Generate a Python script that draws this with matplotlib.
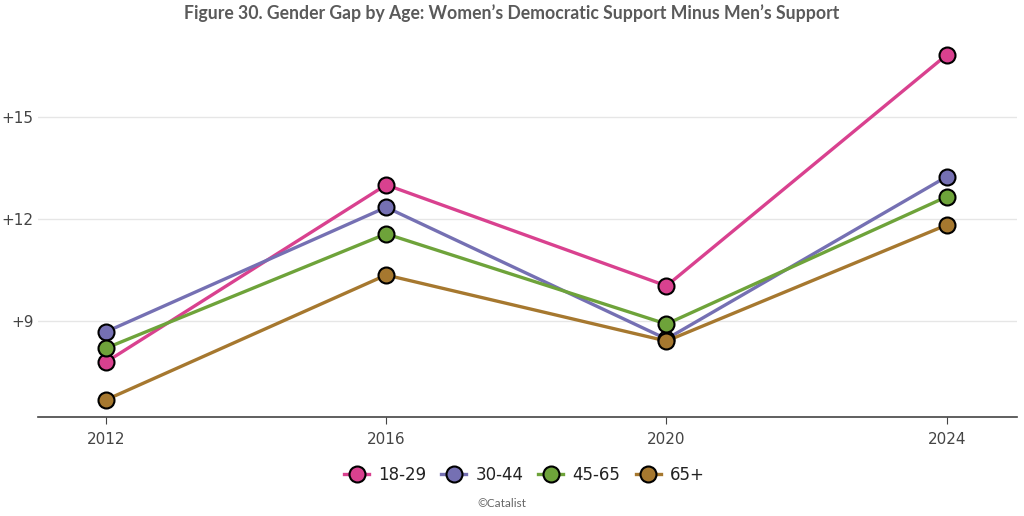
import matplotlib.pyplot as plt
from matplotlib.lines import Line2D

# ---- data ----
years = [2012, 2016, 2020, 2024]
year_labels = ["2012", "2016", "2020", "2024"]
groups = ["18-29", "30-44", "45-65", "65+"]
gap_18_29 = [7.79, 13.0, 10.03, 16.82]
gap_30_44 = [8.68, 12.34, 8.47, 13.24]
gap_45_65 = [8.2, 11.56, 8.91, 12.65]
gap_65_up = [6.68, 10.35, 8.41, 11.82]
series = [gap_18_29, gap_30_44, gap_45_65, gap_65_up]
colors = ["#d9418f", "#7570b3", "#6ea33a", "#a6782f"]

yticks = [9, 12, 15]
ytick_labels = ["+9", "+12", "+15"]

plt.rcParams["font.family"] = ["DejaVu Sans"]

fig = plt.figure(figsize=(10.24, 5.16), dpi=100)
ax = fig.add_axes([0.037, 0.192, 0.956, 0.74])

# lines first, markers on top
for vals, c in zip(series, colors):
    ax.plot(years, vals, color=c, lw=2.4, zorder=2, solid_capstyle="round")
for vals, c in zip(series, colors):
    ax.plot(years, vals, ls="none", marker="o", ms=11.5, mfc=c, mec="black",
            mew=1.5, zorder=3)

ax.set_xlim(2011.03, 2025.0)
ax.set_ylim(6.18, 17.4)
ax.set_yticks(yticks)
ax.set_yticklabels(ytick_labels)
ax.set_xticks(years)
ax.set_xticklabels(year_labels)
ax.grid(axis="y", color="#e6e6e6", lw=1)
ax.set_axisbelow(True)

for s in ["top", "right", "left"]:
    ax.spines[s].set_visible(False)
ax.spines["bottom"].set_color("#444444")
ax.spines["bottom"].set_linewidth(1.2)
ax.tick_params(axis="y", length=0, labelsize=11, labelcolor="#444444", pad=3)
ax.tick_params(axis="x", length=5, color="#444444", labelsize=11,
               labelcolor="#444444", pad=6)

fig.text(0.5, 0.975, "Figure 30. Gender Gap by Age: Women\u2019s Democratic Support Minus Men\u2019s Support",
         ha="center", va="center", fontsize=12.7, fontweight="bold",
         color="#5a5a5a", family=["Lato", "DejaVu Sans"])

handles = [Line2D([0], [0], color=c, lw=2.4, marker="o", ms=11.5, mfc=c,
                  mec="black", mew=1.5) for c in colors]
fig.legend(handles, groups, loc="center", bbox_to_anchor=(0.512, 0.08), ncol=4,
           frameon=False, fontsize=12, handlelength=1.5, handletextpad=0.55,
           columnspacing=0.9, labelcolor="#222222")

fig.text(0.49, 0.025, "\u00a9Catalist", ha="center", va="center", fontsize=8.5,
         color="#666666", family=["Lato", "DejaVu Sans"])

fig.savefig("out.png", dpi=100)
